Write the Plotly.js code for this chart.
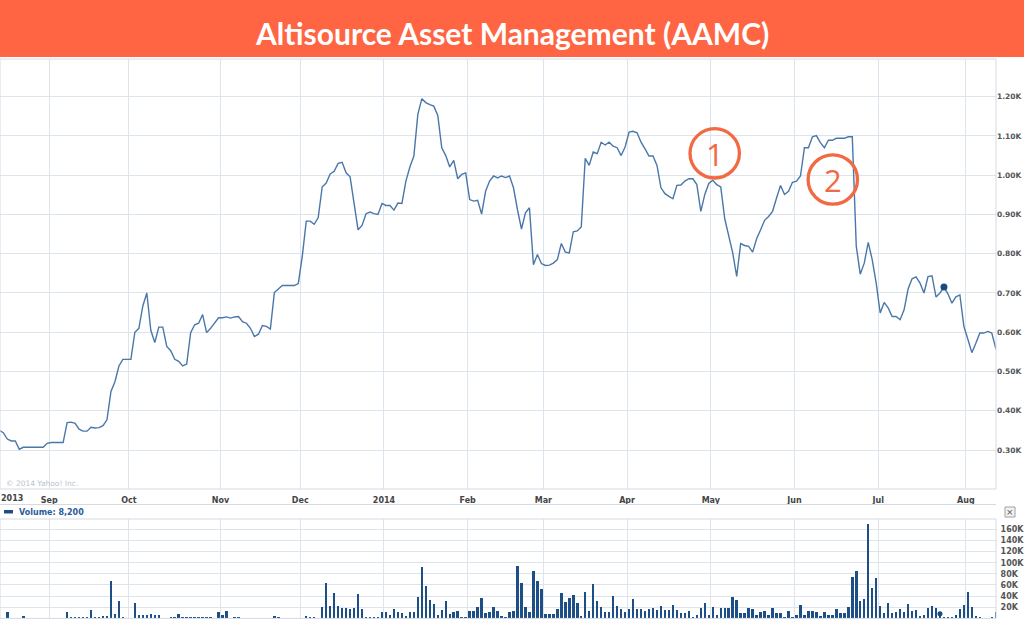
<!DOCTYPE html>
<html><head><meta charset="utf-8">
<script src="https://cdn.plot.ly/plotly-3.0.1.min.js"></script>
<style>html,body{margin:0;padding:0;background:#fff;overflow:hidden}#chart{width:1024px;height:620px}</style>
</head><body><div id="chart"></div>
<script>
// ---- DATA (trading-day index from mid-Aug 2013; prices in $ thousands; volume in thousands of shares) ----
const priceDay = [-1,0,1,2,3,4,5,6,10,11,12,15,16,17,18,19,20,21,22,23,24,25,26,27,28,29,30,32,33,34,35,36,37,38,39,40,41,42,43,44,45,46,47,48,49,50,51,52,53,54,55,56,57,58,59,60,61,62,63,64,65,66,67,68,69,70,71,73,74,75,76,77,78,79,80,81,82,83,84,85,86,87,89,90,91,92,93,94,95,96,97,98,99,100,101,102,103,104,105,106,107,108,109,110,111,112,113,114,115,116,117,118,119,120,121,122,123,124,125,126,127,128,129,130,131,132,133,134,135,136,137,138,139,140,141,142,143,144,145,146,147,148,149,150,151,152,153,154,155,156,157,158,159,160,161,162,163,164,165,166,167,168,169,170,171,172,173,174,175,176,177,178,179,180,181,182,183,184,185,186,187,188,189,190,191,192,193,194,195,196,197,198,199,200,201,202,203,204,205,206,207,208,209,210,211,212,213,214,215,216,217,218,219,220,221,222,223,224,225,226,227,228,229,230,231,232,233,234,235,236,237,238,239,240,241,242,243,244,245,246,247,248,249,250];
const priceK = [0.350,0.344,0.328,0.323,0.323,0.302,0.307,0.307,0.307,0.317,0.319,0.319,0.370,0.371,0.368,0.353,0.348,0.348,0.358,0.356,0.357,0.362,0.377,0.449,0.474,0.514,0.531,0.531,0.600,0.610,0.667,0.700,0.605,0.574,0.613,0.613,0.564,0.553,0.531,0.526,0.514,0.519,0.599,0.619,0.623,0.645,0.599,0.610,0.623,0.637,0.637,0.639,0.636,0.639,0.640,0.627,0.623,0.610,0.589,0.595,0.617,0.615,0.608,0.701,0.710,0.719,0.719,0.719,0.724,0.793,0.883,0.883,0.875,0.892,0.970,0.980,1.003,1.010,1.030,1.033,1.006,0.996,0.861,0.872,0.902,0.906,0.902,0.900,0.928,0.923,0.923,0.911,0.929,0.928,0.985,1.021,1.049,1.155,1.195,1.185,1.180,1.176,1.152,1.070,1.050,1.021,1.038,0.991,1.002,1.006,0.938,0.934,0.936,0.901,0.959,0.985,0.998,0.993,0.998,0.994,0.998,0.968,0.912,0.863,0.904,0.917,0.772,0.798,0.775,0.770,0.771,0.776,0.785,0.826,0.804,0.802,0.856,0.858,0.868,1.043,1.025,1.059,1.055,1.084,1.077,1.084,1.074,1.070,1.050,1.072,1.110,1.112,1.108,1.084,1.067,1.049,1.049,1.025,0.968,0.953,0.946,0.940,0.974,0.975,0.985,0.991,0.991,0.976,0.908,0.951,0.979,0.987,0.976,0.970,0.889,0.844,0.802,0.742,0.826,0.821,0.819,0.804,0.838,0.861,0.885,0.895,0.908,0.942,0.974,0.951,0.959,0.982,0.985,0.998,1.070,1.070,1.098,1.101,1.083,1.070,1.089,1.089,1.094,1.094,1.094,1.098,1.098,0.819,0.748,0.776,0.829,0.785,0.725,0.649,0.676,0.662,0.640,0.640,0.632,0.657,0.710,0.736,0.741,0.725,0.700,0.742,0.744,0.690,0.700,0.715,0.698,0.674,0.690,0.695,0.615,0.582,0.548,0.572,0.598,0.598,0.602,0.598,0.559,0.542];
const volumeK = [1,11,1,1,1,4,1,1,1,1, 1,1,1,1,1,1,11,2,2,2, 2,3,15,3,2,4,5,68,8,31, 2,1,1,28,7,6,6,8,7,7, 1,1,3,3,8,3,2,2,2,3, 2,2,2,1,11,6,14,0.5,2,3, 1,1,1,1,1,1,1,1,4,2, 1,1,1,1,1,1,4,2,2,1,
 21,63,22,45,22,18,18,16,18,43, 17,3,3,2,3,11,11,7,17,11, 9,5,11,11,39,92,58,33,25,6, 15,32,8,12,13,2,2,14,14,20, 36,10,12,20,13,5,3,11,14,95, 63,20,12,85,67,52,8,8,8,17, 46,29,36,42,28,4,47,14,62,32, 21,12,11,40,23,17,11,16,34,17,
 17,14,16,18,15,22,15,15,24,15, 10,10,13,3,6,19,27,7,21,7, 18,18,18,38,33,10,9,18,16,6, 12,13,6,19,9,9,3,13,3,6, 24,6,14,14,12,5,11,6,7,17, 9,9,21,75,85,32,35,169,55,72, 23,10,27,9,11,16,12,25,13,15, 5,6,18,22,18,8.2,3,3,3,6, 17,24,47,20,5,3,1,1,3,12];
const monthStartDay = [12,32,55,75,96,117,136,157,178,199,220,242];
const monthLabels = ['Sep','Oct','Nov','Dec','2014','Feb','Mar','Apr','May','Jun','Jul','Aug'];
const priceTicks = [0.3,0.4,0.5,0.6,0.7,0.8,0.9,1.0,1.1,1.2];
const priceTickText = ['0.30K','0.40K','0.50K','0.60K','0.70K','0.80K','0.90K','1.00K','1.10K','1.20K'];
const volumeTicks = [20,40,60,80,100,120,140,160];
const volumeTickText = ['20K','40K','60K','80K','100K','120K','140K','160K'];
const highlightPriceDay = 236;
const highlightVolumeDay = 235;
const chartTitle = 'Altisource Asset Management (AAMC)';
const volumeLegend = 'Volume: 8,200';

// ---- layout helpers (pixel -> paper) ----
const PW = 996, PH = 620;
const px = x => x / PW;
const py = y => 1 - y / PH;

const gridCol = '#dde4ec';
const tickFontX = {family: 'DejaVu Sans', size: 8, color: '#444', weight: 'bold'};
const monthTickVals = monthStartDay.map(d => d - 0.5);
const xRange = [-0.84, 249.06];
const priceDomain = [py(489), py(59)];
const volDomain = [py(618.4), py(519)];

const hi = priceDay.indexOf(highlightPriceDay);

const traces = [
  {type: 'scatter', mode: 'lines', x: priceDay, y: priceK, xaxis: 'x', yaxis: 'y',
   line: {color: '#4a77a9', width: 1.4}, hoverinfo: 'skip'},
  {type: 'scatter', mode: 'markers', x: [priceDay[hi]], y: [priceK[hi]], xaxis: 'x', yaxis: 'y',
   marker: {color: '#1b4a7c', size: 7}, hoverinfo: 'skip'},
  {type: 'bar', x: volumeK.map((v, i) => i), y: volumeK, xaxis: 'x2', yaxis: 'y2',
   marker: {color: '#1d4f86', line: {width: 0}}, width: 0.62, hoverinfo: 'skip'},
  {type: 'scatter', mode: 'markers', x: [highlightVolumeDay], y: [volumeK[highlightVolumeDay]], xaxis: 'x2', yaxis: 'y2',
   marker: {color: '#1b4a7c', size: 5}, hoverinfo: 'skip'}
];

const circleR = 24.7;
function circ(cx, cy) {
  return {type: 'circle', xref: 'paper', yref: 'paper',
    x0: px(cx - circleR), x1: px(cx + circleR), y0: py(cy + circleR), y1: py(cy - circleR),
    line: {color: '#f26a43', width: 3.3}, fillcolor: 'rgba(0,0,0,0)', layer: 'above'};
}

const layout = {
  width: 1024, height: 620,
  margin: {l: 0, r: 28, t: 0, b: 0, pad: 0},
  paper_bgcolor: '#ffffff', plot_bgcolor: '#ffffff',
  showlegend: false,
  bargap: 0,
  xaxis: {domain: [0, 1], range: xRange, anchor: 'y', tickmode: 'array', tickvals: monthTickVals, ticktext: monthLabels,
    showgrid: true, gridcolor: gridCol, gridwidth: 1, zeroline: false, showline: false,
    ticks: 'outside', ticklen: 3, tickcolor: 'rgba(0,0,0,0)',
    tickfont: tickFontX, fixedrange: true, automargin: false},
  yaxis: {domain: priceDomain, range: [0.2007, 1.296], anchor: 'x', side: 'right', tickmode: 'array', tickvals: priceTicks,
    ticktext: priceTickText, showgrid: true, gridcolor: gridCol, gridwidth: 1, zeroline: false, showline: false,
    ticks: '', 
    tickfont: {family: 'DejaVu Sans', size: 7.5, color: '#555', weight: 'bold'}, fixedrange: true, automargin: false},
  xaxis2: {domain: [0, 1], range: xRange, anchor: 'y2', tickmode: 'array', tickvals: monthTickVals, showticklabels: false,
    showgrid: true, gridcolor: gridCol, gridwidth: 1, zeroline: false, showline: false, ticks: '', fixedrange: true},
  yaxis2: {domain: volDomain, range: [0, 178.5], anchor: 'x2', side: 'right', tickmode: 'array', tickvals: volumeTicks,
    ticktext: volumeTickText, showgrid: true, gridcolor: gridCol, gridwidth: 1, zeroline: false, showline: false,
    ticks: 'outside', ticklen: 2, tickcolor: 'rgba(0,0,0,0)',
    tickfont: {family: 'DejaVu Sans', size: 8, color: '#555', weight: 'bold'}, fixedrange: true, automargin: false},
  shapes: [
    {type: 'rect', xref: 'paper', yref: 'paper', x0: -0.01, x1: 1.04, y0: py(57), y1: 1.0,
     fillcolor: '#ff6542', line: {width: 0}, layer: 'below'},
    {type: 'rect', xref: 'paper', yref: 'paper', x0: 0, x1: 1, y0: priceDomain[0], y1: priceDomain[1],
     fillcolor: 'rgba(0,0,0,0)', line: {color: '#d3dbe5', width: 1}},
    {type: 'line', xref: 'paper', yref: 'paper', x0: 0, x1: 1, y0: py(504.5), y1: py(504.5),
     line: {color: '#d3dbe5', width: 1}},
    {type: 'rect', xref: 'paper', yref: 'paper', x0: 0, x1: 1, y0: volDomain[0], y1: volDomain[1],
     fillcolor: 'rgba(0,0,0,0)', line: {color: '#d3dbe5', width: 1}},
    {type: 'rect', xref: 'paper', yref: 'paper', x0: px(4), x1: px(13), y0: py(513.5), y1: py(510),
     fillcolor: '#1d4f86', line: {width: 0}},
    {type: 'rect', xref: 'paper', yref: 'paper', x0: px(1005), x1: px(1015), y0: py(517), y1: py(507),
     fillcolor: '#f3f3f3', line: {color: '#a0a0a0', width: 1}},
    circ(714.7, 153.3),
    circ(832.8, 179.5)
  ],
  annotations: [
    {text: chartTitle, xref: 'paper', yref: 'paper', x: px(512), y: py(33), xanchor: 'center', yanchor: 'middle',
     showarrow: false, font: {family: 'Lato', size: 30, color: '#ffffff', weight: 'bold'}},
    {text: '© 2014 Yahoo! Inc.', xref: 'paper', yref: 'paper', x: px(4), y: py(483), xanchor: 'left', yanchor: 'middle',
     showarrow: false, font: {family: 'DejaVu Sans', size: 7.5, color: '#b9c2cd'}},
    {text: '2013', xref: 'paper', yref: 'paper', x: px(12), y: py(498.5), xanchor: 'center', yanchor: 'middle',
     showarrow: false, font: tickFontX},
    {text: volumeLegend, xref: 'paper', yref: 'paper', x: px(17), y: py(512.5), xanchor: 'left', yanchor: 'middle',
     showarrow: false, font: {family: 'DejaVu Sans', size: 8, color: '#2a5d9a', weight: 'bold'}},
    {text: '×', xref: 'paper', yref: 'paper', x: px(1010), y: py(512), xanchor: 'center', yanchor: 'middle',
     showarrow: false, font: {family: 'DejaVu Sans', size: 9, color: '#555'}},
    {text: '1', xref: 'paper', yref: 'paper', x: px(715), y: py(153.5), xanchor: 'center', yanchor: 'middle',
     showarrow: false, font: {family: 'Open Sans', size: 31, color: '#f26a43'}},
    {text: '2', xref: 'paper', yref: 'paper', x: px(833.3), y: py(180), xanchor: 'center', yanchor: 'middle',
     showarrow: false, font: {family: 'Open Sans', size: 31, color: '#f26a43'}}
  ]
};

Plotly.newPlot('chart', traces, layout, {displayModeBar: false, staticPlot: true});
</script></body></html>
